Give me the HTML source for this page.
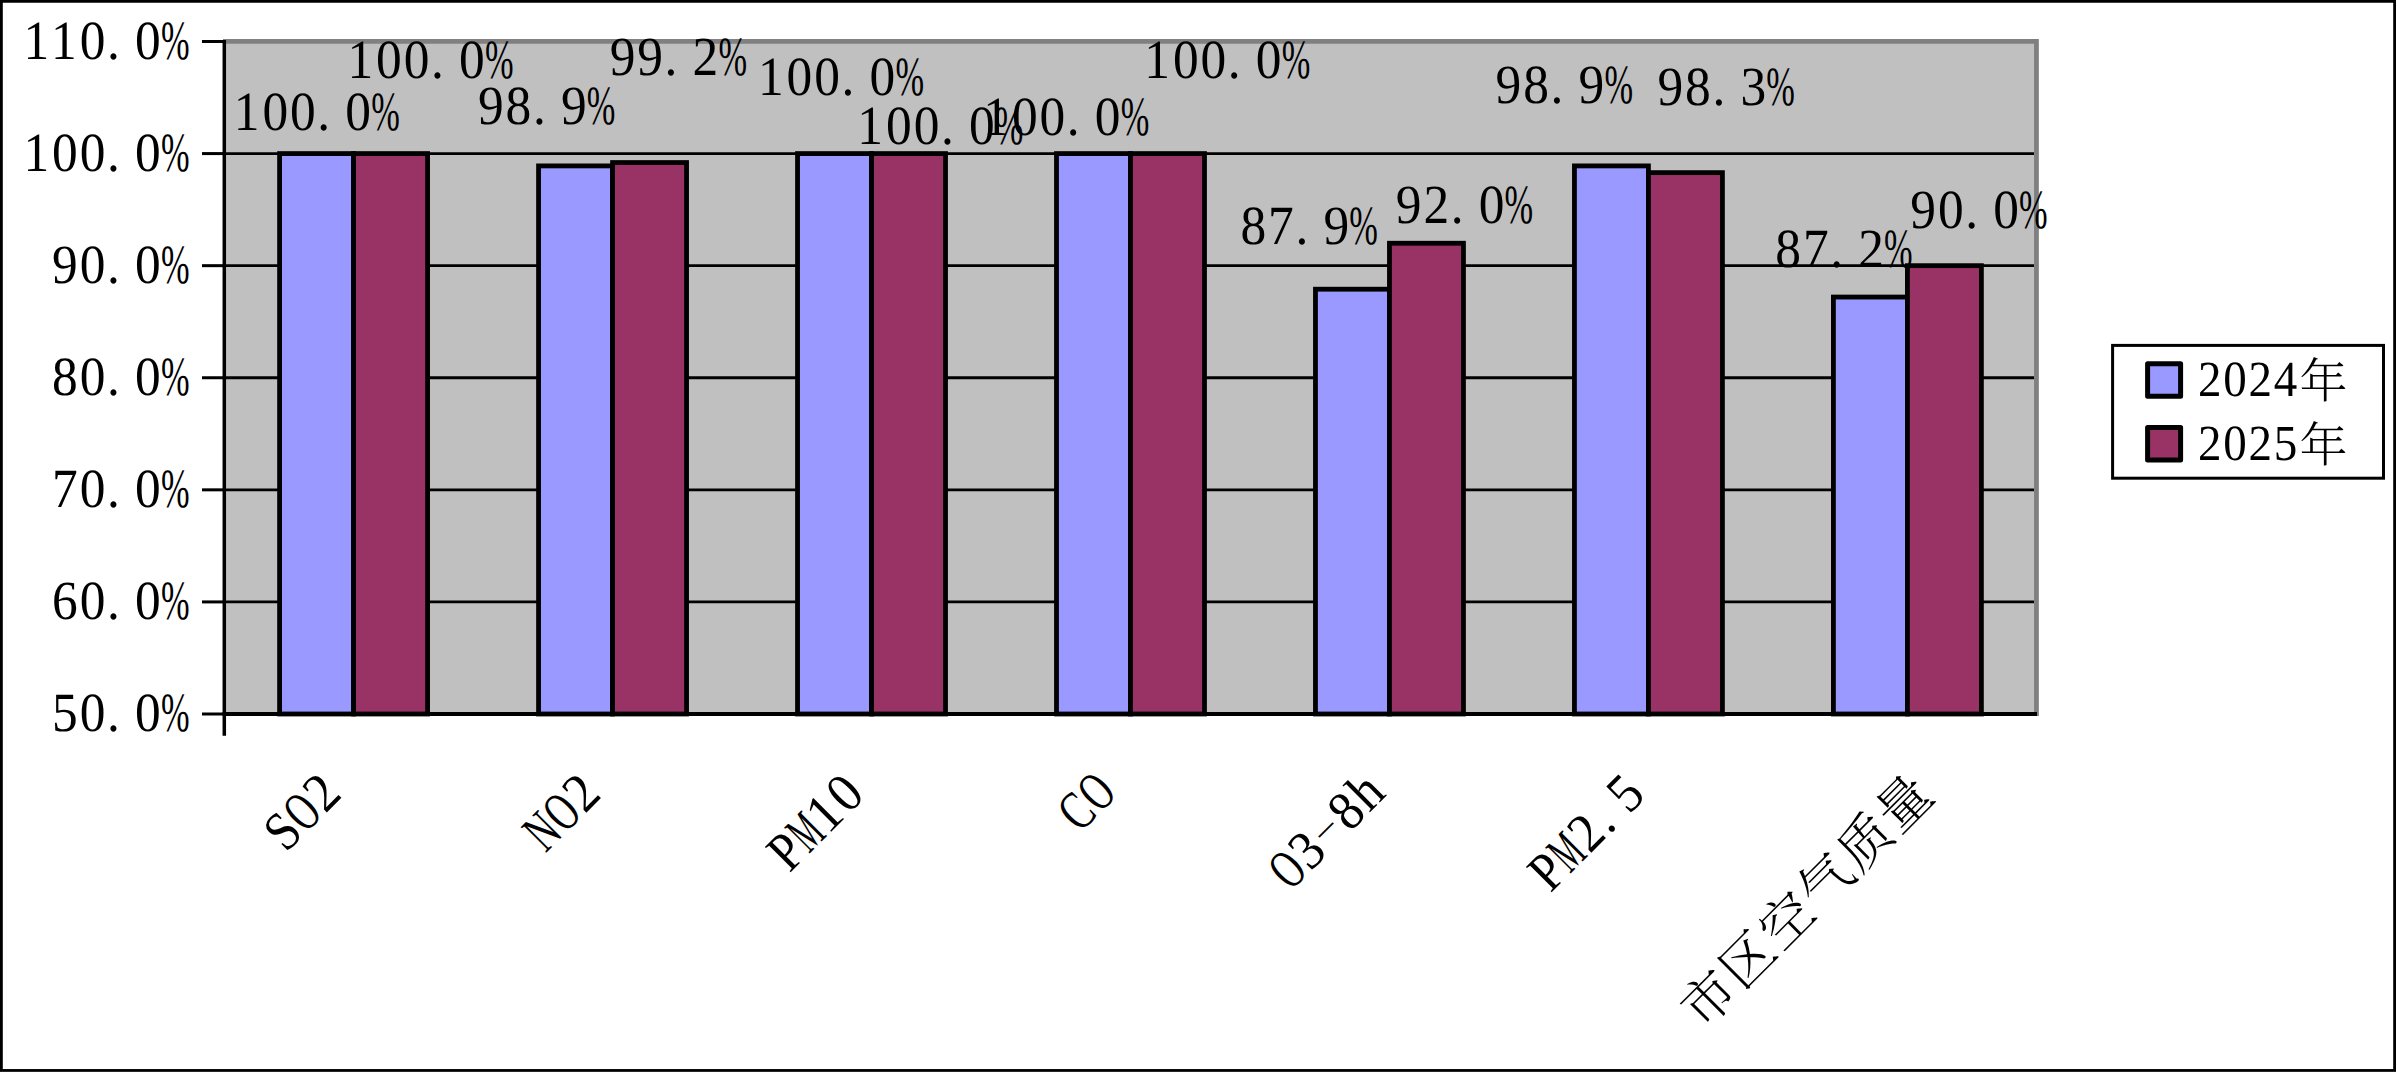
<!DOCTYPE html>
<html lang="zh-CN">
<head>
<meta charset="utf-8">
<title>空气质量达标率</title>
<style>
html,body{margin:0;padding:0;background:#fff;overflow:hidden}
#chart{display:block;width:2397px;height:1073px}
text{font-family:'Liberation Serif','Noto Serif CJK SC',serif;font-size:55.30px;fill:#000;text-rendering:geometricPrecision}
.c{font-weight:300}
.k{stroke:#000;fill:none}
.grid line{stroke:#000;stroke-width:2.9}
.bars rect{stroke:#000;stroke-width:4.8}
.s1{fill:#9999ff}.s2{fill:#993366}
.ticks line{stroke:#000;stroke-width:3}
</style>
</head>
<body>
<svg id="chart" width="2397" height="1073" viewBox="0 0 2397 1073">
<g id="frame">
<rect x="0" y="0" width="2397" height="1073" fill="#fff"/>
<rect class="k" x="1.4" y="1.35" width="2393.20" height="1069.10" stroke-width="2.8"/>
</g>
<g id="plot-area">
<rect x="225.00" y="41.50" width="1811.50" height="672.50" fill="#c0c0c0"/>
<path d="M223 41.35H2036.45V716" fill="none" stroke="#808080" stroke-width="4.8"/>
</g>
<g class="grid">
<line x1="225.00" y1="153.58" x2="2034" y2="153.58"/>
<line x1="225.00" y1="265.67" x2="2034" y2="265.67"/>
<line x1="225.00" y1="377.75" x2="2034" y2="377.75"/>
<line x1="225.00" y1="489.83" x2="2034" y2="489.83"/>
<line x1="225.00" y1="601.92" x2="2034" y2="601.92"/>
</g>
<g class="bars">
<rect class="s1" x="279.59" y="153.58" width="73.99" height="560.42"/>
<rect class="s2" x="353.59" y="153.58" width="73.99" height="560.42"/>
<rect class="s1" x="538.56" y="165.91" width="73.99" height="548.09"/>
<rect class="s2" x="612.56" y="162.55" width="73.99" height="551.45"/>
<rect class="s1" x="797.53" y="153.58" width="73.99" height="560.42"/>
<rect class="s2" x="871.53" y="153.58" width="73.99" height="560.42"/>
<rect class="s1" x="1056.50" y="153.58" width="73.99" height="560.42"/>
<rect class="s2" x="1130.50" y="153.58" width="73.99" height="560.42"/>
<rect class="s1" x="1315.47" y="289.20" width="73.99" height="424.80"/>
<rect class="s2" x="1389.47" y="243.25" width="73.99" height="470.75"/>
<rect class="s1" x="1574.44" y="165.91" width="73.99" height="548.09"/>
<rect class="s2" x="1648.43" y="172.64" width="73.99" height="541.36"/>
<rect class="s1" x="1833.41" y="297.05" width="73.99" height="416.95"/>
<rect class="s2" x="1907.41" y="265.67" width="73.99" height="448.33"/>
</g>
<g id="axes">
<line class="k" x1="224.3" y1="40" x2="224.3" y2="735.7" stroke-width="3.5"/>
<line class="k" x1="222.5" y1="714" x2="2037" y2="714" stroke-width="4"/>
<g class="ticks">
<line x1="202" y1="41.50" x2="224" y2="41.50"/>
<line x1="202" y1="153.58" x2="224" y2="153.58"/>
<line x1="202" y1="265.67" x2="224" y2="265.67"/>
<line x1="202" y1="377.75" x2="224" y2="377.75"/>
<line x1="202" y1="489.83" x2="224" y2="489.83"/>
<line x1="202" y1="601.92" x2="224" y2="601.92"/>
<line x1="202" y1="714.00" x2="224" y2="714.00"/>
</g>
</g>
<g id="value-axis-labels">
<text x="25.23 54.97 85.77 115.11 145.23" y="58.90" transform="scale(0.930 1)">110.0<tspan x="173.06" textLength="30.75" lengthAdjust="spacingAndGlyphs">%</tspan></text>
<text x="25.23 56.04 85.77 115.11 145.23" y="170.98" transform="scale(0.930 1)">100.0<tspan x="173.06" textLength="30.75" lengthAdjust="spacingAndGlyphs">%</tspan></text>
<text x="56.04 85.77 115.11 145.23" y="283.07" transform="scale(0.930 1)">90.0<tspan x="173.06" textLength="30.75" lengthAdjust="spacingAndGlyphs">%</tspan></text>
<text x="56.04 85.77 115.11 145.23" y="395.15" transform="scale(0.930 1)">80.0<tspan x="173.06" textLength="30.75" lengthAdjust="spacingAndGlyphs">%</tspan></text>
<text x="56.04 85.77 115.11 145.23" y="507.23" transform="scale(0.930 1)">70.0<tspan x="173.06" textLength="30.75" lengthAdjust="spacingAndGlyphs">%</tspan></text>
<text x="56.04 85.77 115.11 145.23" y="619.32" transform="scale(0.930 1)">60.0<tspan x="173.06" textLength="30.75" lengthAdjust="spacingAndGlyphs">%</tspan></text>
<text x="56.04 85.77 115.11 145.23" y="731.40" transform="scale(0.930 1)">50.0<tspan x="173.06" textLength="30.75" lengthAdjust="spacingAndGlyphs">%</tspan></text>
</g>
<g id="data-labels">
<text x="251.36 282.17 311.90 341.24 371.36" y="130.10" transform="scale(0.930 1)">100.0<tspan x="399.19" textLength="30.75" lengthAdjust="spacingAndGlyphs">%</tspan></text>
<text x="373.62 404.43 434.16 463.49 493.62" y="78.00" transform="scale(0.930 1)">100.0<tspan x="521.45" textLength="30.75" lengthAdjust="spacingAndGlyphs">%</tspan></text>
<text x="513.94 543.67 573.01 603.14" y="124.00" transform="scale(0.930 1)">98.9<tspan x="630.97" textLength="30.75" lengthAdjust="spacingAndGlyphs">%</tspan></text>
<text x="655.56 685.29 714.62 744.75" y="75.30" transform="scale(0.930 1)">99.2<tspan x="772.58" textLength="30.75" lengthAdjust="spacingAndGlyphs">%</tspan></text>
<text x="815.02 845.83 875.56 904.89 935.02" y="95.20" transform="scale(0.930 1)">100.0<tspan x="962.85" textLength="30.75" lengthAdjust="spacingAndGlyphs">%</tspan></text>
<text x="921.90 952.71 982.44 1011.77 1041.90" y="144.40" transform="scale(0.930 1)">100.0<tspan x="1069.73" textLength="30.75" lengthAdjust="spacingAndGlyphs">%</tspan></text>
<text x="1057.28 1088.08 1117.81 1147.15 1177.28" y="134.50" transform="scale(0.930 1)">100.0<tspan x="1205.11" textLength="30.75" lengthAdjust="spacingAndGlyphs">%</tspan></text>
<text x="1230.40 1261.20 1290.93 1320.27 1350.40" y="78.00" transform="scale(0.930 1)">100.0<tspan x="1378.23" textLength="30.75" lengthAdjust="spacingAndGlyphs">%</tspan></text>
<text x="1333.84 1363.57 1392.90 1423.03" y="244.00" transform="scale(0.930 1)">87.9<tspan x="1450.86" textLength="30.75" lengthAdjust="spacingAndGlyphs">%</tspan></text>
<text x="1500.83 1530.56 1559.89 1590.02" y="223.10" transform="scale(0.930 1)">92.0<tspan x="1617.85" textLength="30.75" lengthAdjust="spacingAndGlyphs">%</tspan></text>
<text x="1608.14 1637.87 1667.20 1697.33" y="102.60" transform="scale(0.930 1)">98.9<tspan x="1725.16" textLength="30.75" lengthAdjust="spacingAndGlyphs">%</tspan></text>
<text x="1782.22 1811.95 1841.29 1871.42" y="105.40" transform="scale(0.930 1)">98.3<tspan x="1899.25" textLength="30.75" lengthAdjust="spacingAndGlyphs">%</tspan></text>
<text x="1908.89 1938.62 1967.96 1998.08" y="266.60" transform="scale(0.930 1)">87.2<tspan x="2025.91" textLength="30.75" lengthAdjust="spacingAndGlyphs">%</tspan></text>
<text x="2054.05 2083.78 2113.12 2143.24" y="228.20" transform="scale(0.930 1)">90.0<tspan x="2171.08" textLength="30.75" lengthAdjust="spacingAndGlyphs">%</tspan></text>
</g>
<g id="category-labels">
<text x="0.00" y="0.00" transform="translate(285.50 853.70) rotate(-45) scale(0.930 1)"><tspan x="0.65" textLength="28.44" lengthAdjust="spacingAndGlyphs">S</tspan><tspan x="30.38" textLength="28.44" lengthAdjust="spacingAndGlyphs">O</tspan><tspan x="60.50">2</tspan></text>
<text x="0.00" y="0.00" transform="translate(545.00 854.00) rotate(-45) scale(0.930 1)"><tspan x="0.65" textLength="28.44" lengthAdjust="spacingAndGlyphs">N</tspan><tspan x="30.38" textLength="28.44" lengthAdjust="spacingAndGlyphs">O</tspan><tspan x="60.50">2</tspan></text>
<text x="0.00" y="0.00" transform="translate(789.00 874.00) rotate(-45) scale(0.930 1)"><tspan x="0.65" textLength="28.44" lengthAdjust="spacingAndGlyphs">P</tspan><tspan x="30.38" textLength="28.44" lengthAdjust="spacingAndGlyphs">M</tspan><tspan x="59.43">1</tspan><tspan x="90.23">0</tspan></text>
<text x="0.00" y="0.00" transform="translate(1079.70 833.80) rotate(-45) scale(0.930 1)"><tspan x="0.65" textLength="28.44" lengthAdjust="spacingAndGlyphs">C</tspan><tspan x="30.38" textLength="28.44" lengthAdjust="spacingAndGlyphs">O</tspan></text>
<text x="0.00" y="0.00" transform="translate(1290.30 892.00) rotate(-45) scale(0.930 1)"><tspan x="0.65" textLength="28.44" lengthAdjust="spacingAndGlyphs">O</tspan><tspan x="30.77">3</tspan><tspan x="60.35" y="-12.89" style="font-size:24.00px" textLength="27.96" lengthAdjust="spacingAndGlyphs">-</tspan><tspan x="90.23" y="0.00">8</tspan><tspan x="119.97">h</tspan></text>
<text x="0.00" y="0.00" transform="translate(1550.00 894.00) rotate(-45) scale(0.930 1)"><tspan x="0.65" textLength="28.44" lengthAdjust="spacingAndGlyphs">P</tspan><tspan x="30.38" textLength="28.44" lengthAdjust="spacingAndGlyphs">M</tspan><tspan x="60.50">2</tspan><tspan x="89.84">.</tspan><tspan x="119.97">5</tspan></text>
<text class="c" x="1.15 58.76 116.36 173.96 231.57 289.17" y="-0.83" transform="translate(1703.00 1032.00) rotate(-45) scale(0.960)">市区空气质量</text>
</g>
<g id="legend">
<rect class="k" x="2112.6" y="345.4" width="270.90" height="132.80" fill="#fff" stroke-width="3"/>
<rect class="s1" x="2147.6" y="363.70" width="33" height="32.6" stroke="#000" stroke-width="5" stroke-linejoin="round"/>
<text x="2363.32 2390.52 2417.73 2444.93" y="396.00" transform="scale(0.930 1)" style="font-size:50.60px">2024<tspan class="c" x="2472.54" dy="1.75" style="font-size:48.07px" textLength="51.69" lengthAdjust="spacingAndGlyphs">年</tspan></text>
<rect class="s2" x="2147.6" y="427.50" width="33" height="32.6" stroke="#000" stroke-width="5" stroke-linejoin="round"/>
<text x="2363.32 2390.52 2417.73 2444.93" y="460.00" transform="scale(0.930 1)" style="font-size:50.60px">2025<tspan class="c" x="2472.54" dy="1.75" style="font-size:48.07px" textLength="51.69" lengthAdjust="spacingAndGlyphs">年</tspan></text>
</g>
</svg>
</body>
</html>
